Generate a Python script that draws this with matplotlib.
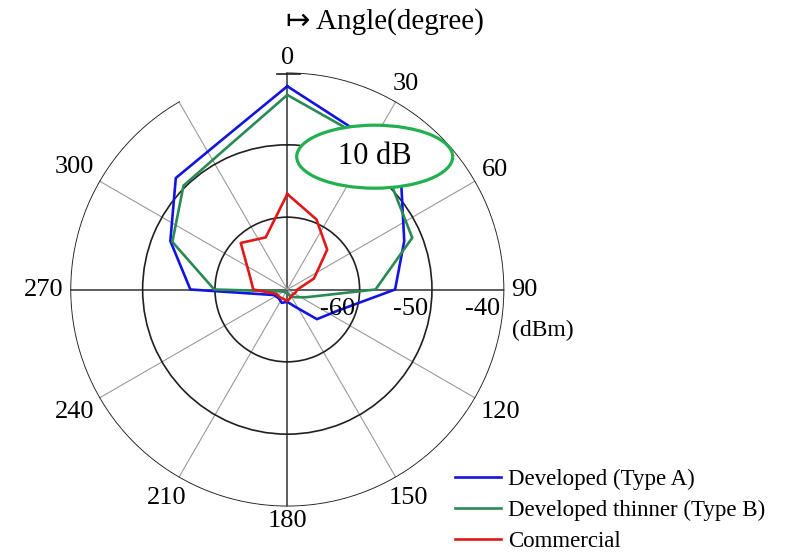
import numpy as np
import matplotlib
matplotlib.use("Agg")
import matplotlib.pyplot as plt
from matplotlib.patches import Ellipse
from matplotlib.lines import Line2D

plt.rcParams['font.family'] = ['Liberation Serif', 'DejaVu Sans']

# Ángulos de medición (grados) y nivel recibido (dBm)
angulos = [0, 22.5, 45, 67.5, 90, 112.5, 135, 157.5,
           180, 202.5, 225, 247.5, 270, 292.5, 315, 337.5]
tipo_a = [-41.9, -46.0, -47.8, -52.5, -55.1, -62.4, -64.2, -67.5,
          -68.3, -68.0, -68.3, -68.0, -56.6, -52.5, -48.2, -47.3]
tipo_b = [-43.1, -46.4, -49.6, -51.3, -57.8, -67.2, -68.5, -69.0,
          -69.5, -69.5, -69.5, -69.3, -59.9, -52.8, -49.7, -48.6]
comercial = [-56.8, -59.5, -62.2, -66.0, -68.6, -68.8, -69.0, -68.8,
             -68.4, -68.6, -68.5, -68.4, -65.3, -64.3, -60.9, -62.2]

etiquetas = ['Developed (Type A)', 'Developed thinner (Type B)', 'Commercial']
colores = ['#1414e0', '#2a8a55', '#e01818']

angulos_grid = [0, 30, 60, 90, 120, 150, 180, 210, 240, 270, 300, 330]
etiq_angulos = ['0', '30', '60', '90', '120', '150', '180', '210', '240', '270', '300', '']
anillos = [-60, -50, -40]
r_min, r_max = -70, -40

fig = plt.figure(figsize=(7.86, 5.56), dpi=100)
W, H = 786, 556
cx, cy, R = 287.3, 289.5, 217
ax = fig.add_axes([(cx - R) / W, (H - cy - R) / H, 2 * R / W, 2 * R / H], projection='polar')
ax.set_theta_zero_location('N')
ax.set_theta_direction(-1)
ax.set_rlim(r_min, r_max)

# Curvas cerradas
th = np.deg2rad(angulos + [angulos[0]])
for serie, lab, col in zip([tipo_a, tipo_b, comercial], etiquetas, colores):
    ax.plot(th, serie + [serie[0]], color=col, lw=1.9, label=lab, zorder=3)

# Rejilla
ax.set_thetagrids(angulos_grid, labels=[''] * len(angulos_grid))
for a, gl in zip(angulos_grid, ax.xaxis.get_gridlines()):
    if a % 90 == 0:
        gl.set_color('#505050'); gl.set_linewidth(1.3)
    else:
        gl.set_color('#9a9a9a'); gl.set_linewidth(0.8)
    gl.set_linestyle('-')
ax.set_rgrids(anillos[:-1], labels=['', ''])
for gl in ax.yaxis.get_gridlines():
    gl.set_color('#202020'); gl.set_linewidth(1.2); gl.set_linestyle('-')
ax.spines['polar'].set_visible(False)
ax.tick_params(length=0)

# Círculo exterior (abierto entre 330 y 360)
arco = np.deg2rad(np.linspace(0, 330, 300))
ax.plot(arco, np.full_like(arco, r_max), color='#202020', lw=1.3, zorder=2)
ax.add_line(Line2D([0.476, 0.529], [0.996, 0.996], transform=ax.transAxes,
                   color='#202020', lw=1.2, clip_on=False))

# Etiquetas de ángulo
for a, txt in zip(angulos_grid, etiq_angulos):
    if not txt:
        continue
    s, c = np.sin(np.deg2rad(a)), np.cos(np.deg2rad(a))
    ext = abs(s) * len(txt) * 7 + abs(c) * 9 + 6
    ax.annotate(txt, (np.deg2rad(a), r_max), xytext=(ext * s / 1.389, ext * c / 1.389),
                textcoords='offset points', ha='center', va='center', fontsize=19,
                annotation_clip=False)

# Etiquetas radiales
for r in anillos:
    ax.annotate(str(r), (np.pi / 2, r), xytext=(-3, -14), textcoords='offset points',
                ha='right', va='center', fontsize=19, annotation_clip=False)
fig.text(512 / W, 1 - 330 / H, '(dBm)', fontsize=17, ha='left', va='center')
fig.text(286 / W, 1 - 22 / H, '\u21a6 Angle(degree)', fontsize=21, ha='left', va='center')

# Óvalo "10 dB"
fig.add_artist(Ellipse((374.7 / W, 1 - 156.7 / H), 156 / W, 63 / H, transform=fig.transFigure,
                       facecolor='white', edgecolor='#22b04e', lw=2.3, zorder=5))
fig.text(374.7 / W, 1 - 157 / H, '10 dB', fontsize=22, ha='center', va='center', zorder=6)

ax.legend(loc='upper left', bbox_to_anchor=(455 / W, 1 - 469 / H), bbox_transform=fig.transFigure,
          frameon=False, borderpad=0, borderaxespad=0, handlelength=2.0, handletextpad=0.3,
          labelspacing=0.42, fontsize=16.5)

fig.savefig('out.png', dpi=100)
